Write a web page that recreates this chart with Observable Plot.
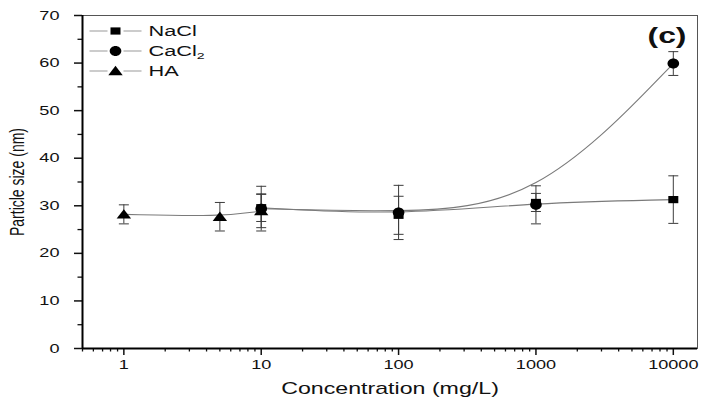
<!DOCTYPE html>
<html>
<head>
<meta charset="utf-8">
<script src="https://cdn.jsdelivr.net/npm/d3@7"></script>
<script src="https://cdn.jsdelivr.net/npm/@observablehq/plot@0.6"></script>
<style>
  body { margin: 0; background: #fff; }
</style>
</head>
<body>
<div id="chart"></div>
<script>
// Particle size vs. electrolyte / humic acid concentration
const naclConc  = [10, 100, 1000, 10000];
const naclSize  = [29.6, 28.0, 30.7, 31.3];
const naclErr   = [2.9, 4.0, 1.9, 5.0];

const cacl2Conc = [10, 100, 1000, 10000];
const cacl2Size = [29.4, 28.6, 30.2, 59.9];
const cacl2Err  = [4.7, 5.7, 4.0, 2.5];

const haConc    = [1, 5, 10];
const haSize    = [28.2, 27.7, 28.9];
const haErr     = [2.0, 3.0, 3.5];

const seriesNames = ["NaCl", "CaCl2", "HA"];
const xTicks = [1, 10, 100, 1000, 10000];
const yTicks = [0, 10, 20, 30, 40, 50, 60, 70];

// minor ticks: 2..9 within each decade, 5-unit steps on y
const xMinor = [];
for (let p = -1; p <= 4; ++p) for (let m = 2; m <= 9; ++m) {
  const v = m * Math.pow(10, p);
  if (v >= 0.5 && v <= 15000) xMinor.push(v);
}
const yMinor = d3.range(5, 70, 10);

const toRows = (name, conc, size, err) =>
  conc.map((c, i) => ({series: name, c, v: size[i], e: err[i]}));
const nacl  = toRows("NaCl", naclConc, naclSize, naclErr);
const cacl2 = toRows("CaCl2", cacl2Conc, cacl2Size, cacl2Err);
const ha    = toRows("HA", haConc, haSize, haErr);
const all = [...cacl2, ...ha, ...nacl];

// symbols, slightly wide like the original figure
const square = {draw(c) { c.moveTo(-5, -3.6); c.lineTo(5, -3.6); c.lineTo(5, 3.6); c.lineTo(-5, 3.6); c.closePath(); }};
const ellipse = {draw(c) {
  const rx = 5.8, ry = 5, k = 0.5523;
  c.moveTo(rx, 0);
  c.bezierCurveTo(rx, ry * k, rx * k, ry, 0, ry);
  c.bezierCurveTo(-rx * k, ry, -rx, ry * k, -rx, 0);
  c.bezierCurveTo(-rx, -ry * k, -rx * k, -ry, 0, -ry);
  c.bezierCurveTo(rx * k, -ry, rx, -ry * k, rx, 0);
  c.closePath();
}};
const triangle = {draw(c) { c.moveTo(0, -5.2); c.lineTo(7.2, 4.2); c.lineTo(-7.2, 4.2); c.closePath(); }};
const cap = {draw(c) { c.moveTo(-5, 0); c.lineTo(5, 0); }};
const legendLine = {draw(c) { c.moveTo(-26, 0); c.lineTo(-8, 0); c.moveTo(8, 0); c.lineTo(26, 0); }};

const symbols = {NaCl: square, CaCl2: ellipse, HA: triangle};
const groups = {NaCl: nacl, CaCl2: cacl2, HA: ha};

const lineColor = "#7a7a7a";
const errColor = "#3c3c3c";

const legendMarks = seriesNames.flatMap((name, i) => [
  Plot.dot([name], {frameAnchor: "top-left", dx: 33, dy: 15.5 + i * 20, symbol: legendLine, stroke: "#999", strokeWidth: 1.2, fill: "none"}),
  Plot.dot([name], {frameAnchor: "top-left", dx: 33, dy: 15.5 + i * 20, symbol: symbols[name], fill: "#000", stroke: "none"}),
  Plot.text([name], {frameAnchor: "top-left", dx: 66, dy: 15.5 + i * 20, text: d => d, textAnchor: "start", lineAnchor: "middle", fontSize: 15, fill: "#111"})
]);

const chart = Plot.plot({
  width: 703,
  height: 403,
  marginLeft: 82,
  marginRight: 6,
  marginTop: 15,
  marginBottom: 55,
  style: {fontFamily: "'Liberation Sans', Arial, sans-serif", background: "#fff", color: "#111"},
  x: {type: "log", domain: [0.5, 15000]},
  y: {domain: [0, 70]},
  marks: [
    Plot.frame({stroke: "#555", strokeWidth: 1}),
    // smoothed connecting curves
    ...["CaCl2", "NaCl", "HA"].map(name =>
      Plot.line(groups[name], {x: "c", y: "v", curve: "basis", stroke: lineColor, strokeWidth: 1.1})),
    // error bars with caps
    Plot.ruleX(all, {x: "c", y1: d => d.v - d.e, y2: d => d.v + d.e, stroke: errColor, strokeWidth: 1}),
    Plot.dot(all, {x: "c", y: d => d.v + d.e, symbol: cap, stroke: errColor, strokeWidth: 1, fill: "none"}),
    Plot.dot(all, {x: "c", y: d => d.v - d.e, symbol: cap, stroke: errColor, strokeWidth: 1, fill: "none"}),
    // markers
    ...["HA", "CaCl2", "NaCl"].map(name =>
      Plot.dot(groups[name], {x: "c", y: "v", symbol: symbols[name], fill: "#000", stroke: "none"})),
    // axes
    Plot.axisX(xMinor, {tickSize: 3.5, fill: "none", label: null, strokeWidth: 1.3, stroke: "#111"}),
    Plot.axisX(xTicks, {tickSize: 7, tickPadding: 5, tickFormat: d => String(d), label: null, strokeWidth: 1.5, stroke: "#111"}),
    Plot.axisY(yMinor, {tickSize: 4.5, fill: "none", label: null, strokeWidth: 1.3, stroke: "#111"}),
    Plot.axisY(yTicks, {tickSize: 8, tickPadding: 15, tickFormat: d => String(d), label: null, strokeWidth: 1.5, stroke: "#111"}),
    Plot.ruleY([0], {stroke: "#000", strokeWidth: 2}),
    Plot.ruleX([0.5], {stroke: "#000", strokeWidth: 2}),
    // titles
    Plot.text(["Concentration (mg/L)"], {frameAnchor: "bottom", dy: 40, text: d => d, fontSize: 16, lineAnchor: "middle", fill: "#111"}),
    Plot.text(["Particle size (nm)"], {frameAnchor: "left", dx: -65, text: d => d, rotate: -90, textAnchor: "middle", fontSize: 14, lineAnchor: "middle", fill: "#111"}),
    Plot.text(["(c)"], {frameAnchor: "top-right", dx: -11, dy: 20, text: d => d, textAnchor: "end", fontSize: 22, fontWeight: "bold", lineAnchor: "middle", fill: "#111"}),
    ...legendMarks
  ]
});

// widen the horizontal type, size the tick labels and set the subscript in CaCl2
d3.select(chart).selectAll("text").each(function () {
  const t = d3.select(this);
  const s = t.text();
  const tr = t.attr("transform") || "";
  if (s === "Particle size (nm)") {
    t.style("font-size", "14px");
    t.attr("transform", tr.replace(/rotate\(([^)]*)\)/, "scale(1.45,1) rotate($1)"));
    return;
  }
  if (/^\d+$/.test(s)) t.style("font-size", "12.5px");
  t.attr("transform", tr + " scale(1.45,1)");
  if (s === "CaCl2") {
    t.text("CaCl");
    t.append("tspan").attr("dy", "0.35em").attr("font-size", "0.65em").text("2");
  }
});

document.getElementById("chart").appendChild(chart);
</script>
</body>
</html>
